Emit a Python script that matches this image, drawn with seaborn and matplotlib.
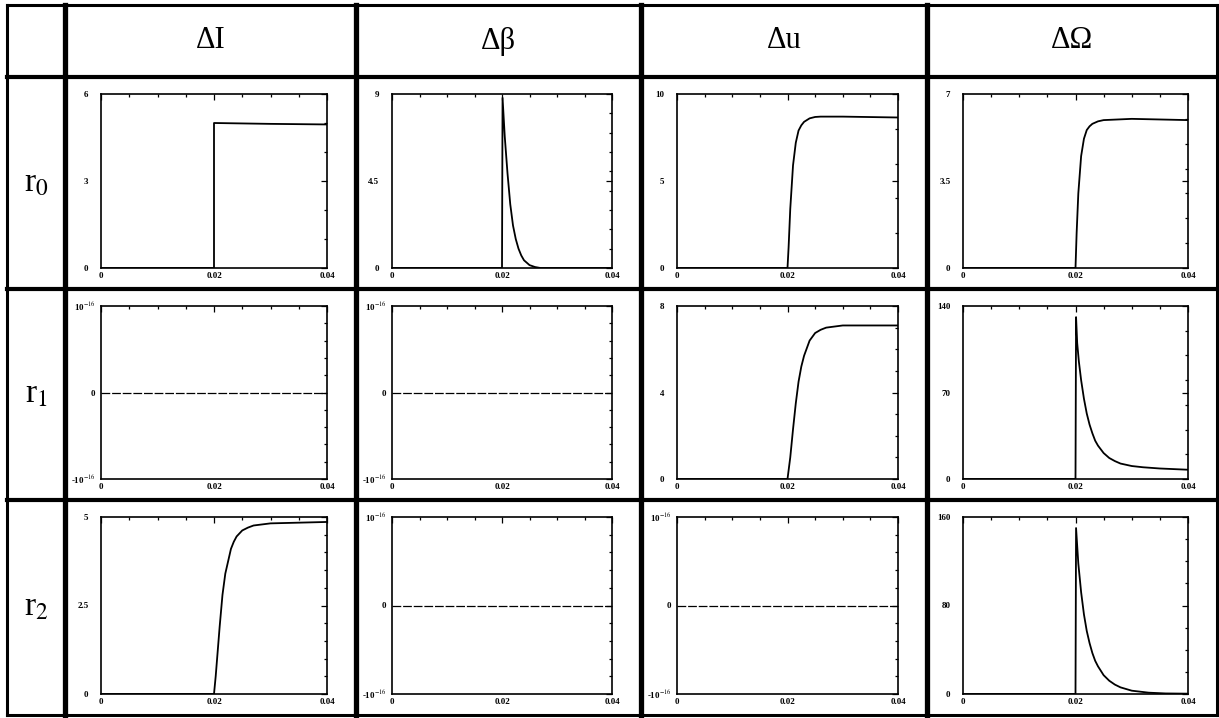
import matplotlib
matplotlib.use("Agg")
import matplotlib.pyplot as plt
import seaborn as sns
import numpy as np
import pandas as pd
from matplotlib.lines import Line2D
from matplotlib.ticker import FixedLocator, MultipleLocator

# table headers
col_labels = ["ΔI", "Δβ", "Δu", "ΔΩ"]
row_labels = ["r$_0$", "r$_1$", "r$_2$"]

# shared time axis ticks
x_ticks = [0, 0.02, 0.04]
x_tick_labels = ["0", "0.02", "0.04"]

# row r0
dI_r0_x = [0, 0.02, 0.02, 0.03, 0.04]
dI_r0_y = [0, 0, 5.0, 4.97, 4.95]
dB_r0_x = [0, 0.02, 0.0201, 0.0205, 0.021, 0.0215, 0.022, 0.0225, 0.023, 0.0235, 0.024, 0.025, 0.026, 0.027, 0.04]
dB_r0_y = [0, 0, 8.8, 6.8, 4.9, 3.3, 2.2, 1.5, 1.0, 0.65, 0.4, 0.15, 0.05, 0.0, 0.0]
du_r0_x = [0, 0.02, 0.0202, 0.0205, 0.021, 0.0215, 0.022, 0.0225, 0.023, 0.024, 0.025, 0.026, 0.03, 0.04]
du_r0_y = [0, 0, 1.2, 3.4, 5.9, 7.2, 7.9, 8.2, 8.4, 8.6, 8.68, 8.7, 8.7, 8.65]
dO_r0_x = [0, 0.02, 0.0202, 0.0205, 0.021, 0.0215, 0.022, 0.0225, 0.023, 0.024, 0.025, 0.03, 0.04]
dO_r0_y = [0, 0, 1.4, 3.0, 4.5, 5.2, 5.55, 5.7, 5.8, 5.9, 5.95, 6.0, 5.95]

# row r1
du_r1_x = [0, 0.02, 0.0205, 0.021, 0.0215, 0.022, 0.0225, 0.023, 0.024, 0.025, 0.026, 0.027, 0.03, 0.04]
du_r1_y = [0, 0, 1.0, 2.3, 3.5, 4.5, 5.2, 5.7, 6.4, 6.75, 6.9, 7.0, 7.1, 7.1]
dO_r1_x = [0, 0.02, 0.0201, 0.0203, 0.0206, 0.021, 0.0215, 0.022, 0.0225, 0.023, 0.0235, 0.024,
           0.025, 0.026, 0.027, 0.028, 0.03, 0.032, 0.035, 0.04]
dO_r1_y = [0, 0, 131, 110, 95, 80, 65, 53, 44, 37, 31, 27, 21, 17, 14.5, 12.5, 10.5, 9.5, 8.5, 7.5]

# row r2
dI_r2_x = [0, 0.02, 0.0203, 0.0207, 0.021, 0.0215, 0.022, 0.023, 0.0235, 0.024, 0.025, 0.026, 0.027, 0.03, 0.04]
dI_r2_y = [0, 0, 0.5, 1.3, 1.9, 2.8, 3.4, 4.1, 4.3, 4.45, 4.62, 4.7, 4.76, 4.82, 4.86]
dO_r2_x = [0, 0.02, 0.0201, 0.0205, 0.021, 0.0215, 0.022, 0.0225, 0.023, 0.0235, 0.024, 0.025,
           0.026, 0.027, 0.028, 0.03, 0.033, 0.036, 0.04]
dO_r2_y = [0, 0, 150, 118, 92, 72, 57, 46, 37, 30, 25, 17, 12, 8.5, 6, 3, 1.2, 0.5, 0.3]

# identically zero entries
zero_x = [0, 0.04]
zero_y = [0, 0]

# y tick values / labels
tiny = 1e-16
tiny_labels = ["-10$^{-16}$", "0", "10$^{-16}$"]

sns.set_theme(style="white")
plt.rcParams["font.family"] = ["Liberation Serif", "DejaVu Serif"]
plt.rcParams["mathtext.fontset"] = "stix"

W, H = 1219, 718
fig = plt.figure(figsize=(W / 100, H / 100), dpi=100)
fig.patch.set_facecolor("white")

col_edges = [7, 65, 356, 641, 927, 1217]
row_edges = [5, 77, 289, 500, 715]


def fx(px):
    return px / W


def fy(py):
    return 1 - py / H


def hline(y, x0, x1, lw):
    fig.add_artist(Line2D([fx(x0), fx(x1)], [fy(y), fy(y)], color="black", lw=lw,
                          transform=fig.transFigure, solid_capstyle="projecting"))


def vline(x, y0, y1, lw):
    fig.add_artist(Line2D([fx(x), fx(x)], [fy(y0), fy(y1)], color="black", lw=lw,
                          transform=fig.transFigure, solid_capstyle="projecting"))


def panel(row, col, xs, ys, ylo, yhi, yt, ytl, minor, dashed=False):
    left = col_edges[col + 1] + 36
    right = col_edges[col + 2] - 29
    top = row_edges[row + 1] + 17
    bottom = row_edges[row + 2] - 21
    ax = fig.add_axes([fx(left), fy(bottom), (right - left) / W, (bottom - top) / H])
    df = pd.DataFrame({"t": xs, "v": ys})
    sns.lineplot(data=df, x="t", y="v", ax=ax, estimator=None, sort=False,
                 color="black", linewidth=0.9 if dashed else 1.3,
                 linestyle=(0, (7, 1.5)) if dashed else "-")
    ax.set_xlim(0, 0.04)
    ax.set_ylim(ylo, yhi)
    ax.set_xlabel("")
    ax.set_ylabel("")
    ax.xaxis.set_major_locator(FixedLocator(x_ticks))
    ax.set_xticklabels(x_tick_labels)
    ax.xaxis.set_minor_locator(MultipleLocator(0.005))
    ax.yaxis.set_major_locator(FixedLocator(yt))
    ax.set_yticklabels(ytl)
    ax.yaxis.set_minor_locator(MultipleLocator(minor))
    ax.tick_params(which="both", direction="in", top=True, right=True, color="black",
                   width=0.9, labelsize=6.5, labelcolor="black")
    ax.tick_params(which="major", length=4)
    ax.tick_params(which="minor", length=2.5)
    ax.tick_params(axis="y", pad=4 if dashed else 9)
    ax.tick_params(axis="x", pad=3)
    for lab in ax.get_xticklabels() + ax.get_yticklabels():
        lab.set_fontweight("bold")
    for s in ax.spines.values():
        s.set_color("black")
        s.set_linewidth(1.2)
    return ax


# r0
panel(0, 0, dI_r0_x, dI_r0_y, 0, 6, [0, 3, 6], ["0", "3", "6"], 1)
panel(0, 1, dB_r0_x, dB_r0_y, 0, 9, [0, 4.5, 9], ["0", "4.5", "9"], 1)
panel(0, 2, du_r0_x, du_r0_y, 0, 10, [0, 5, 10], ["0", "5", "10"], 2)
panel(0, 3, dO_r0_x, dO_r0_y, 0, 7, [0, 3.5, 7], ["0", "3.5", "7"], 1)
# r1
panel(1, 0, zero_x, zero_y, -tiny, tiny, [-tiny, 0, tiny], tiny_labels, 2e-17, dashed=True)
panel(1, 1, zero_x, zero_y, -tiny, tiny, [-tiny, 0, tiny], tiny_labels, 2e-17, dashed=True)
panel(1, 2, du_r1_x, du_r1_y, 0, 8, [0, 4, 8], ["0", "4", "8"], 1)
panel(1, 3, dO_r1_x, dO_r1_y, 0, 140, [0, 70, 140], ["0", "70", "140"], 20)
# r2
panel(2, 0, dI_r2_x, dI_r2_y, 0, 5, [0, 2.5, 5], ["0", "2.5", "5"], 0.5)
panel(2, 1, zero_x, zero_y, -tiny, tiny, [-tiny, 0, tiny], tiny_labels, 2e-17, dashed=True)
panel(2, 2, zero_x, zero_y, -tiny, tiny, [-tiny, 0, tiny], tiny_labels, 2e-17, dashed=True)
panel(2, 3, dO_r2_x, dO_r2_y, 0, 160, [0, 80, 160], ["0", "80", "160"], 20)

# table grid
hline(row_edges[0], col_edges[0], col_edges[-1], 2.2)
hline(row_edges[-1], col_edges[0], col_edges[-1], 2.2)
for y in row_edges[1:-1]:
    hline(y, col_edges[0], col_edges[-1], 3.0)
vline(col_edges[0], row_edges[0], row_edges[-1], 2.2)
vline(col_edges[-1], row_edges[0], row_edges[-1], 2.2)
for x in col_edges[1:-1]:
    vline(x, row_edges[0], row_edges[-1], 3.8)

# headers
for i, lab in enumerate(col_labels):
    cx = (col_edges[i + 1] + col_edges[i + 2]) / 2
    cy = (row_edges[0] + row_edges[1]) / 2
    fig.text(fx(cx), fy(cy), lab, ha="center", va="center", fontsize=22, color="black")
for j, lab in enumerate(row_labels):
    cx = (col_edges[0] + col_edges[1]) / 2
    cy = (row_edges[j + 1] + row_edges[j + 2]) / 2
    fig.text(fx(cx), fy(cy), lab, ha="center", va="center", fontsize=24, color="black")

fig.savefig("out.png", dpi=100, facecolor="white")
